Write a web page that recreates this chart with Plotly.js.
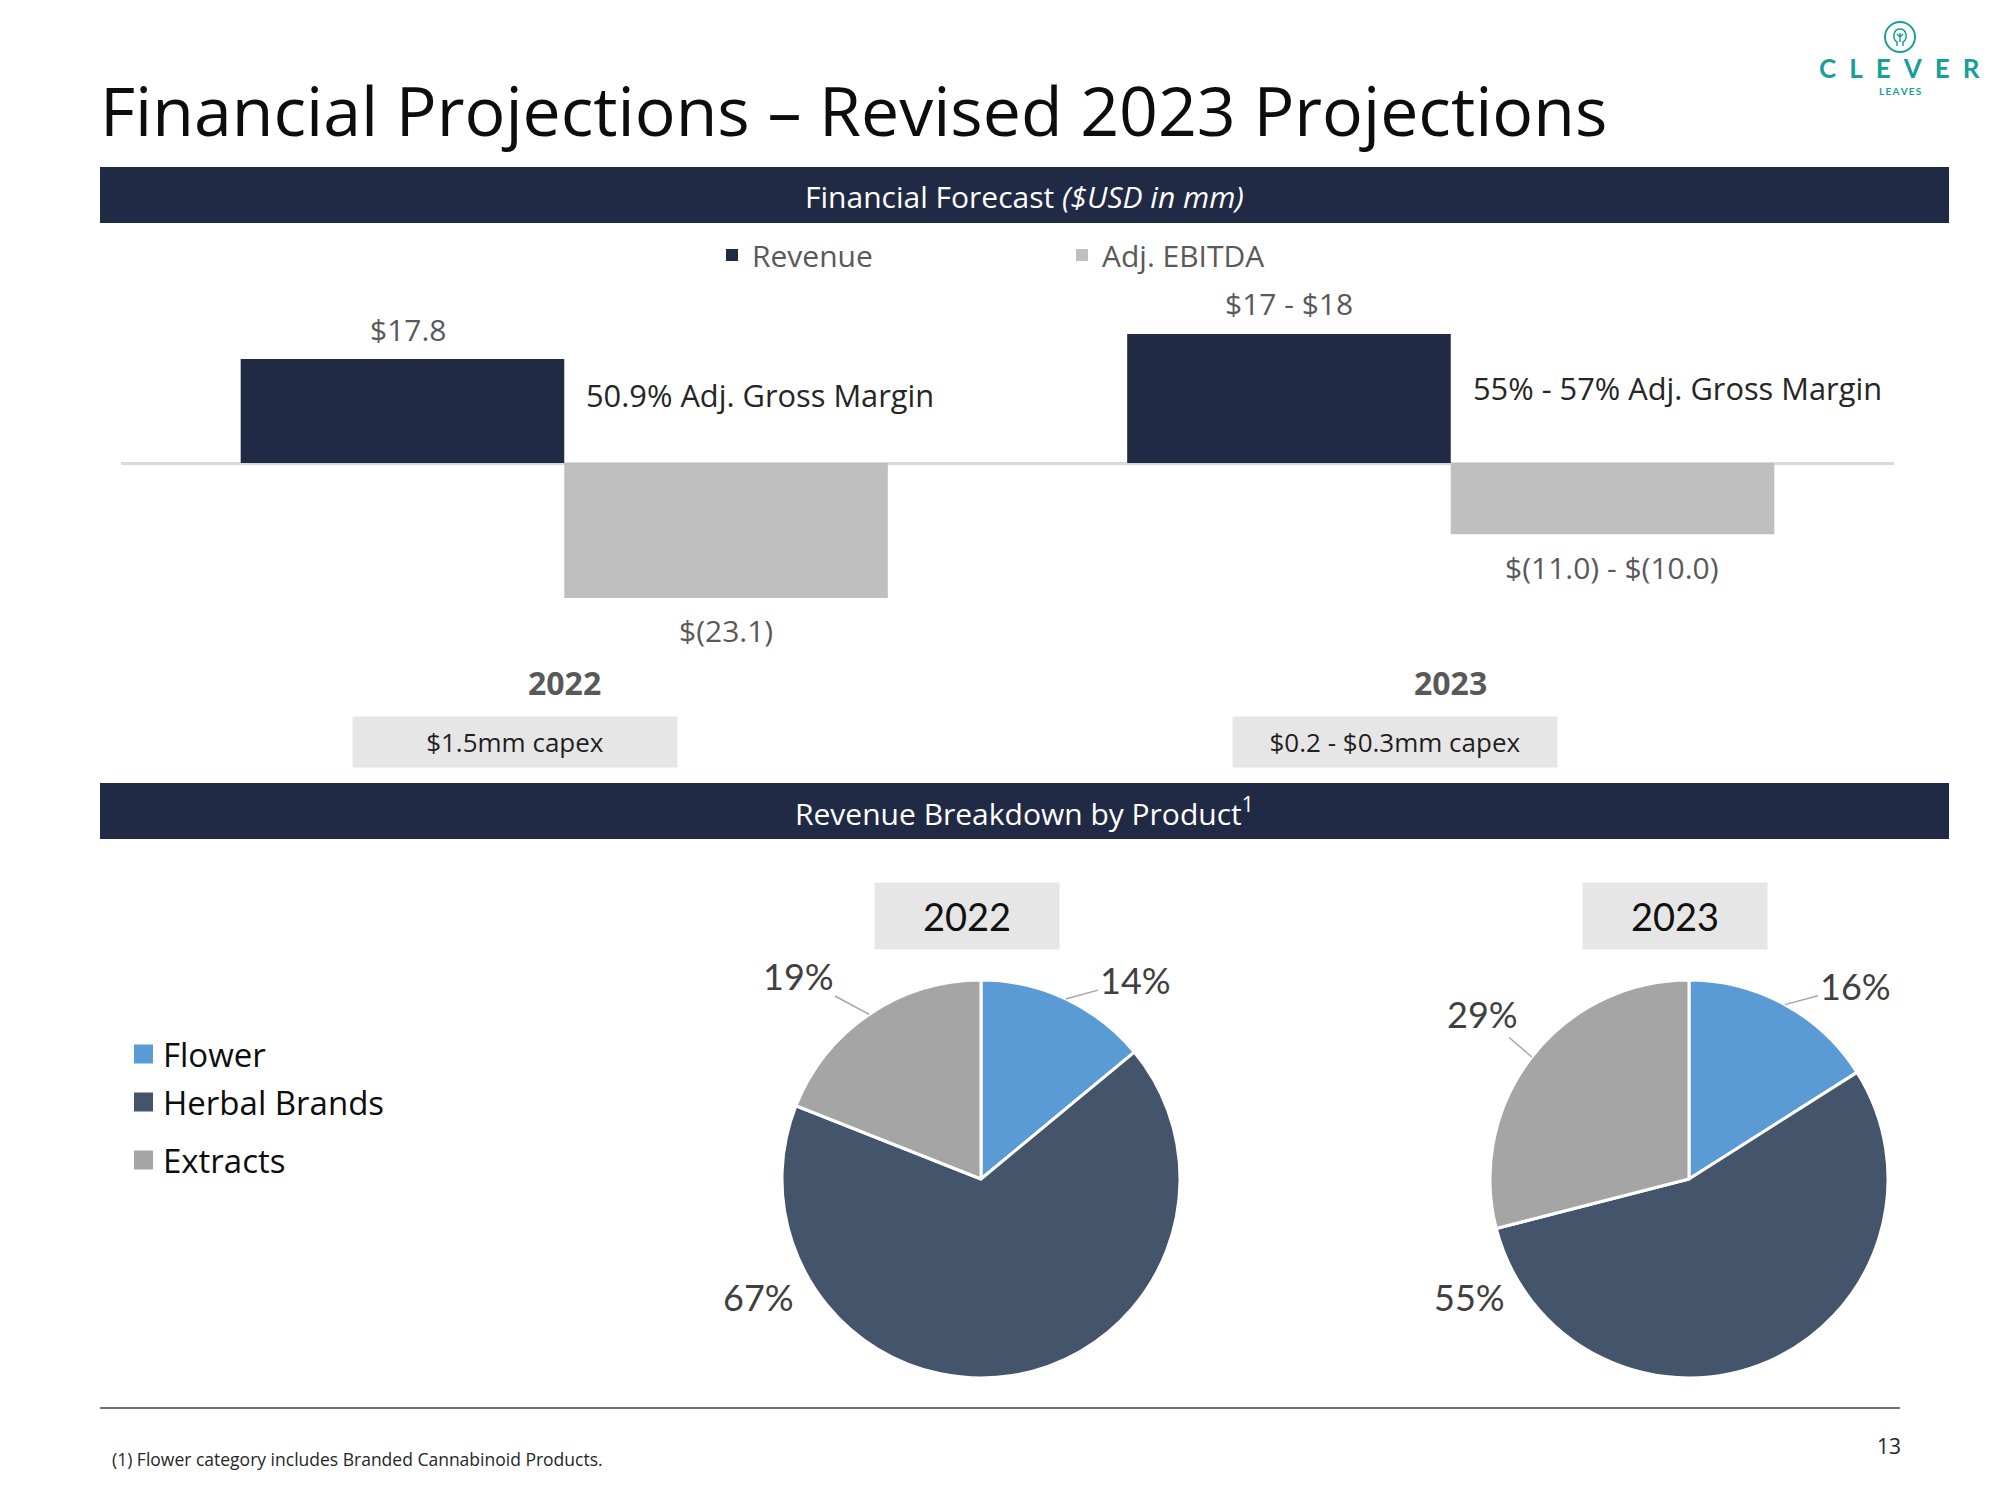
<!DOCTYPE html>
<html><head><meta charset="utf-8">
<script src="https://cdn.plot.ly/plotly-3.0.1.min.js"></script>
<style>html,body{margin:0;padding:0;background:#fff}</style>
</head><body>
<div id="chart" style="width:2000px;height:1500px"></div>
<script>
// ---------------- DATA ----------------
const years = ['2022', '2023'];
const seriesNames = ['Revenue', 'Adj. EBITDA'];
const revenueBars = [17.8, 22.1];      // bar heights as drawn ($mm)
const ebitdaBars = [-23.1, -12.2];
const revenueLabels = ['$17.8', '$17 - $18'];
const ebitdaLabels = ['$(23.1)', '$(11.0) - $(10.0)'];
const grossMarginLabels = ['50.9% Adj. Gross Margin', '55% - 57% Adj. Gross Margin'];
const capexLabels = ['$1.5mm capex', '$0.2 - $0.3mm capex'];
const products = ['Flower', 'Herbal Brands', 'Extracts'];
const mix2022 = [14, 67, 19];
const mix2023 = [16, 55, 29];
const pieYears = ['2022', '2023'];

// ---------------- STYLE / LAYOUT ----------------
const W = 2000, H = 1500;
const px = x => x / W, py = y => 1 - y / H;
const FONT = 'Open Sans, sans-serif';
const PIEFONT = 'Lato, sans-serif';
const NAVY = '#212a45', GREYBAR = '#bfbfbf';
const productColors = ['#5b9bd5', '#44546a', '#a5a5a5'];
const TEAL = '#17a09a';

const pieBoxes = [ {cx: 981, cy: 1179, r: 199}, {cx: 1689, cy: 1179, r: 199} ];
const pieTitleX = [967, 1675];
const pieLabelPos = [
  [[1135, 980], [758, 1297], [798, 976]],
  [[1855, 986], [1469, 1297], [1482, 1014]]
];
const pieLeader = [true, false, true];
const legendRowY = [1054, 1102, 1160];
const gmY = [395, 388];
const capexX = [515, 1394.5];
const revLabelShift = [-156, -161.5];

const traces = [
  { type: 'bar', name: seriesNames[0], x: years, y: revenueBars,
    marker: {color: NAVY}, hoverinfo: 'skip', xaxis: 'x', yaxis: 'y' },
  { type: 'bar', name: seriesNames[1], x: years, y: ebitdaBars,
    marker: {color: GREYBAR}, hoverinfo: 'skip', xaxis: 'x', yaxis: 'y' }
];
[mix2022, mix2023].forEach((vals, k) => {
  const b = pieBoxes[k];
  traces.push({
    type: 'pie', labels: products, values: vals, sort: false, direction: 'clockwise', rotation: 0,
    textinfo: 'none', hoverinfo: 'skip', showlegend: false,
    marker: {colors: productColors, line: {color: '#ffffff', width: 3}},
    domain: {x: [px(b.cx - b.r), px(b.cx + b.r)], y: [py(b.cy + b.r), py(b.cy - b.r)]}
  });
});

const shapes = [
  {type: 'rect', layer: 'below', xref: 'paper', yref: 'paper', x0: px(100), x1: px(1949), y0: py(223), y1: py(167), fillcolor: NAVY, line: {width: 0}},
  {type: 'rect', layer: 'below', xref: 'paper', yref: 'paper', x0: px(100), x1: px(1949), y0: py(839), y1: py(783), fillcolor: NAVY, line: {width: 0}},
  {type: 'line', xref: 'paper', yref: 'paper', x0: px(100), x1: px(1900), y0: py(1408), y1: py(1408), line: {color: '#404040', width: 1.5}},
  // logo ring + bulb
  {type: 'circle', xref: 'paper', yref: 'paper', x0: px(1885), x1: px(1915), y0: py(52), y1: py(22), line: {color: TEAL, width: 2}},
  {type: 'path', xref: 'paper', yref: 'paper', line: {color: TEAL, width: 1.5},
   path: `M${px(1897)},${py(46)} L${px(1897)},${py(42)} C${px(1892)},${py(39)} ${px(1893)},${py(29)} ${px(1900)},${py(29)} C${px(1907)},${py(29)} ${px(1908)},${py(39)} ${px(1903)},${py(42)} L${px(1903)},${py(46)}`},
  {type: 'path', xref: 'paper', yref: 'paper', line: {color: TEAL, width: 1.5},
   path: `M${px(1900)},${py(42)} L${px(1900)},${py(33)} M${px(1900)},${py(37)} L${px(1897)},${py(34)} M${px(1900)},${py(37)} L${px(1903)},${py(34)}`}
];

const annotations = [];
const ann = o => annotations.push(Object.assign({showarrow: false, xref: 'paper', yref: 'paper', xanchor: 'center', yanchor: 'middle'}, o));

// header texts
ann({x: px(1024.5), y: py(196), text: 'Financial Forecast <i>($USD in mm)</i>', font: {size: 30, color: '#ffffff'}});
ann({x: px(1024.5), y: py(812), text: 'Revenue Breakdown by Product<sup>1</sup>', font: {size: 30, color: '#ffffff'}});

// bar labels
years.forEach((yr, i) => {
  ann({xref: 'x', yref: 'y', x: i, y: revenueBars[i], xshift: revLabelShift[i], yshift: 30,
       text: revenueLabels[i], font: {size: 30, color: '#595959'}});
  ann({xref: 'x', yref: 'y', x: i, y: ebitdaBars[i], xshift: 161.5, yshift: -33,
       text: ebitdaLabels[i], font: {size: 30, color: '#595959'}});
  ann({xref: 'x', x: i, xshift: 20, xanchor: 'left', y: py(gmY[i]),
       text: grossMarginLabels[i], font: {size: 30.8, color: '#262626'}});
  ann({xref: 'x', x: i, y: py(682), text: '<b>' + yr + '</b>', font: {size: 32, color: '#595959'}});
  ann({x: px(capexX[i]), y: py(742), text: capexLabels[i], width: 324, height: 50, borderpad: 0,
       bgcolor: '#e7e6e6', font: {size: 26, color: '#1f1f1f'}});
});

// pie titles and labels
pieYears.forEach((yr, k) => {
  const b = pieBoxes[k];
  ann({x: px(pieTitleX[k]), y: py(916), text: yr, width: 184, height: 66, borderpad: 0,
       bgcolor: '#e7e6e6', font: {family: PIEFONT, size: 38, color: '#111111'}});
  const vals = [mix2022, mix2023][k];
  const total = vals.reduce((a, c) => a + c, 0);
  let cum = 0;
  vals.forEach((v, i) => {
    const mid = (cum + v / 2) / total * 2 * Math.PI; cum += v;
    const [lx, ly] = pieLabelPos[k][i];
    const text = v + '%';
    if (pieLeader[i]) {
      const tx = b.cx + b.r * Math.sin(mid), ty = b.cy - b.r * Math.cos(mid);
      annotations.push({xref: 'paper', yref: 'paper', x: px(tx), y: py(ty), ax: lx - tx, ay: ly - ty,
        showarrow: true, arrowhead: 0, arrowwidth: 1.5, arrowcolor: '#a6a6a6', standoff: 0,
        text: text, font: {family: PIEFONT, size: 36, color: '#404040'}});
    } else {
      ann({x: px(lx), y: py(ly), text: text, font: {family: PIEFONT, size: 36, color: '#404040'}});
    }
  });
});

// pie legend (manual)
products.forEach((p, i) => {
  const yc = legendRowY[i];
  shapes.push({type: 'rect', xref: 'paper', yref: 'paper', x0: px(134), x1: px(153), y0: py(yc + 9.5), y1: py(yc - 9.5),
               fillcolor: productColors[i], line: {width: 0}});
  ann({x: px(161), xanchor: 'left', y: py(yc), text: p, font: {size: 33, color: '#0d0d0d'}});
});

// footer
ann({x: px(110), xanchor: 'left', y: py(1459), text: '(1) Flower category includes Branded Cannabinoid Products.', font: {size: 17.5, color: '#262626'}});
ann({x: px(1889), y: py(1446), text: '13', font: {size: 21, color: '#262626'}});
// logo text
ann({x: px(1899), y: py(68), text: '<b>C\u2002L\u2002E\u2002V\u2002E\u2002R</b>', font: {family: 'Lato, sans-serif', size: 26, color: TEAL}});
ann({x: px(1900), y: py(91), text: '<b>L\u2009E\u2009A\u2009V\u2009E\u2009S</b>', font: {family: 'Lato, sans-serif', size: 10, color: TEAL}});

const layout = {
  width: W, height: H, margin: {l: 0, r: 0, t: 0, b: 0},
  paper_bgcolor: '#ffffff', plot_bgcolor: 'rgba(0,0,0,0)',
  font: {family: FONT, color: '#595959'},
  title: {text: 'Financial Projections – Revised 2023 Projections', x: px(100), xanchor: 'left',
          y: py(112), yanchor: 'middle', yref: 'container', font: {family: FONT, size: 68, color: '#0d0d0d'}},
  barmode: 'group', bargap: 0.27, bargroupgap: 0,
  xaxis: {domain: [px(121), px(1894)], type: 'category', range: [-0.5, 1.5], autorange: false,
          showticklabels: false, showgrid: false, zeroline: false, showline: false, ticks: '', fixedrange: true},
  yaxis: {domain: [py(638.2), py(287.8)], range: [-30, 30], autorange: false, showticklabels: false, showgrid: false,
          zeroline: true, zerolinecolor: '#d9d9d9', zerolinewidth: 3, ticks: '', fixedrange: true},
  showlegend: true,
  legend: {orientation: 'h', x: px(712), xanchor: 'left', y: py(255), yanchor: 'middle',
           entrywidthmode: 'pixels', entrywidth: 305, font: {size: 30, color: '#595959'},
           bgcolor: 'rgba(0,0,0,0)', itemclick: false, itemdoubleclick: false},
  hovermode: false,
  shapes: shapes, annotations: annotations
};

Plotly.newPlot('chart', traces, layout, {displayModeBar: false, staticPlot: true});
</script>
</body></html>
